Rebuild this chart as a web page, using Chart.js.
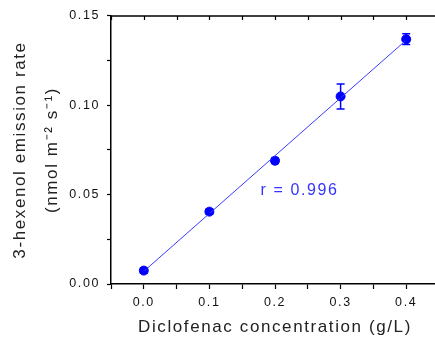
<!DOCTYPE html>
<html>
<head>
<meta charset="utf-8">
<script src="https://cdn.jsdelivr.net/npm/chart.js@4"></script>
<style>
  html, body { margin: 0; padding: 0; background: #fff; overflow: hidden; }
  #contenedor { width: 445px; height: 342px; }
</style>
</head>
<body>
<div id="contenedor"><canvas id="grafico" width="445" height="342"></canvas></div>
<script>
// datos
const concentraciones = [0.0, 0.1, 0.2, 0.3, 0.4];
const emision = [0.0075, 0.0405, 0.069, 0.105, 0.137];
const errores = [0.0015, 0.0015, 0.0015, 0.007, 0.003];

// recta de ajuste
const ajusteX = [0.0, 0.4];
const ajusteY = [0.0071, 0.1365];

const textoR = 'r = 0.996';
const posicionR = [0.178, 0.052];

const AZUL = '#0000ff';
const FUENTE = '"Liberation Sans", Arial, sans-serif';

const espaciado = {
  id: 'espaciado',
  beforeLayout(chart) { chart.ctx.letterSpacing = '1.6px'; },
  beforeDraw(chart) { chart.ctx.letterSpacing = '1.6px'; }
};

// barras de error
const barrasError = {
  id: 'barrasError',
  afterDatasetsDraw(chart) {
    const { ctx, scales: { x, y } } = chart;
    ctx.save();
    ctx.strokeStyle = AZUL;
    ctx.lineWidth = 1.5;
    concentraciones.forEach((c, i) => {
      const px = x.getPixelForValue(c);
      const arriba = y.getPixelForValue(emision[i] + errores[i]);
      const abajo = y.getPixelForValue(emision[i] - errores[i]);
      ctx.beginPath();
      ctx.moveTo(px, arriba); ctx.lineTo(px, abajo);
      ctx.moveTo(px - 4, arriba); ctx.lineTo(px + 4, arriba);
      ctx.moveTo(px - 4, abajo); ctx.lineTo(px + 4, abajo);
      ctx.stroke();
    });
    // texto del coeficiente
    ctx.fillStyle = '#3434ff';
    ctx.font = '16px ' + FUENTE;
    ctx.textAlign = 'left';
    ctx.textBaseline = 'middle';
    ctx.fillText(textoR, x.getPixelForValue(posicionR[0]), y.getPixelForValue(posicionR[1]));
    ctx.restore();
  }
};

// eje superior con marcas hacia dentro
const marcoSuperior = {
  id: 'marcoSuperior',
  afterDraw(chart) {
    const { ctx, chartArea, scales: { x } } = chart;
    ctx.save();
    ctx.strokeStyle = '#000';
    ctx.lineWidth = 1.5;
    ctx.beginPath();
    ctx.moveTo(chartArea.left, chartArea.top);
    ctx.lineTo(chartArea.right, chartArea.top);
    ctx.stroke();
    ctx.lineWidth = 1.2;
    x.ticks.forEach(t => {
      const px = Math.round(x.getPixelForValue(t.value)) + 0.5;
      ctx.beginPath();
      ctx.moveTo(px, chartArea.top);
      ctx.lineTo(px, chartArea.top + 4);
      ctx.stroke();
    });
    ctx.restore();
  }
};

const puntos = concentraciones.map((c, i) => ({ x: c, y: emision[i] }));
const recta = ajusteX.map((c, i) => ({ x: c, y: ajusteY[i] }));

new Chart(document.getElementById('grafico'), {
  type: 'scatter',
  data: {
    datasets: [
      {
        type: 'line',
        data: recta,
        borderColor: '#3a3aff',
        borderWidth: 1,
        pointRadius: 0,
        fill: false
      },
      {
        data: puntos,
        backgroundColor: AZUL,
        borderColor: AZUL,
        pointRadius: 4.5,
        pointHoverRadius: 4.5
      }
    ]
  },
  options: {
    responsive: false,
    animation: false,
    events: [],
    layout: { padding: { top: 16, right: 2, left: 0, bottom: 0 } },
    plugins: { legend: { display: false }, tooltip: { enabled: false } },
    scales: {
      x: {
        type: 'linear',
        min: -0.05,
        max: 0.45,
        afterFit: s => { s.height = 58; },
        afterBuildTicks: s => {
          s.ticks = [];
          for (let k = -1; k <= 9; k++) s.ticks.push({ value: k * 0.05 });
        },
        ticks: {
          autoSkip: false,
          maxRotation: 0,
          padding: 6,
          color: '#111',
          font: { family: FUENTE, size: 12.5 },
          callback: v => {
            const k = Math.round(v * 100);
            return (k % 10 === 0 && k >= 0 && k <= 40) ? (k / 100).toFixed(1) : '';
          }
        },
        grid: { drawOnChartArea: false, tickLength: 5, tickColor: '#000', tickWidth: 1.2 },
        border: { color: '#000', width: 1.5 },
        title: {
          display: true,
          text: 'Diclofenac concentration (g/L)',
          color: '#222',
          font: { family: FUENTE, size: 17 },
          padding: { top: 0, bottom: 4 }
        }
      },
      y: {
        min: 0,
        max: 0.15,
        afterFit: s => { s.width = 111; },
        afterBuildTicks: s => {
          s.ticks = [];
          for (let k = 0; k <= 6; k++) s.ticks.push({ value: k * 0.025 });
        },
        ticks: {
          autoSkip: false,
          padding: 7,
          color: '#111',
          font: { family: FUENTE, size: 12.5 },
          callback: v => {
            const k = Math.round(v * 1000);
            return k % 50 === 0 ? (k / 1000).toFixed(2) : '';
          }
        },
        grid: { drawOnChartArea: false, tickLength: 4, tickColor: '#000', tickWidth: 1.2 },
        border: { color: '#000', width: 1.5 },
        title: {
          display: true,
          text: ['3-hexenol emission rate', '(nmol m\u207B\u00B2 s\u207B\u00B9)'],
          color: '#222',
          font: { family: FUENTE, size: 17, lineHeight: 1.9 },
          padding: { top: 4, bottom: 0 }
        }
      }
    }
  },
  plugins: [espaciado, barrasError, marcoSuperior]
});
</script>
</body>
</html>
